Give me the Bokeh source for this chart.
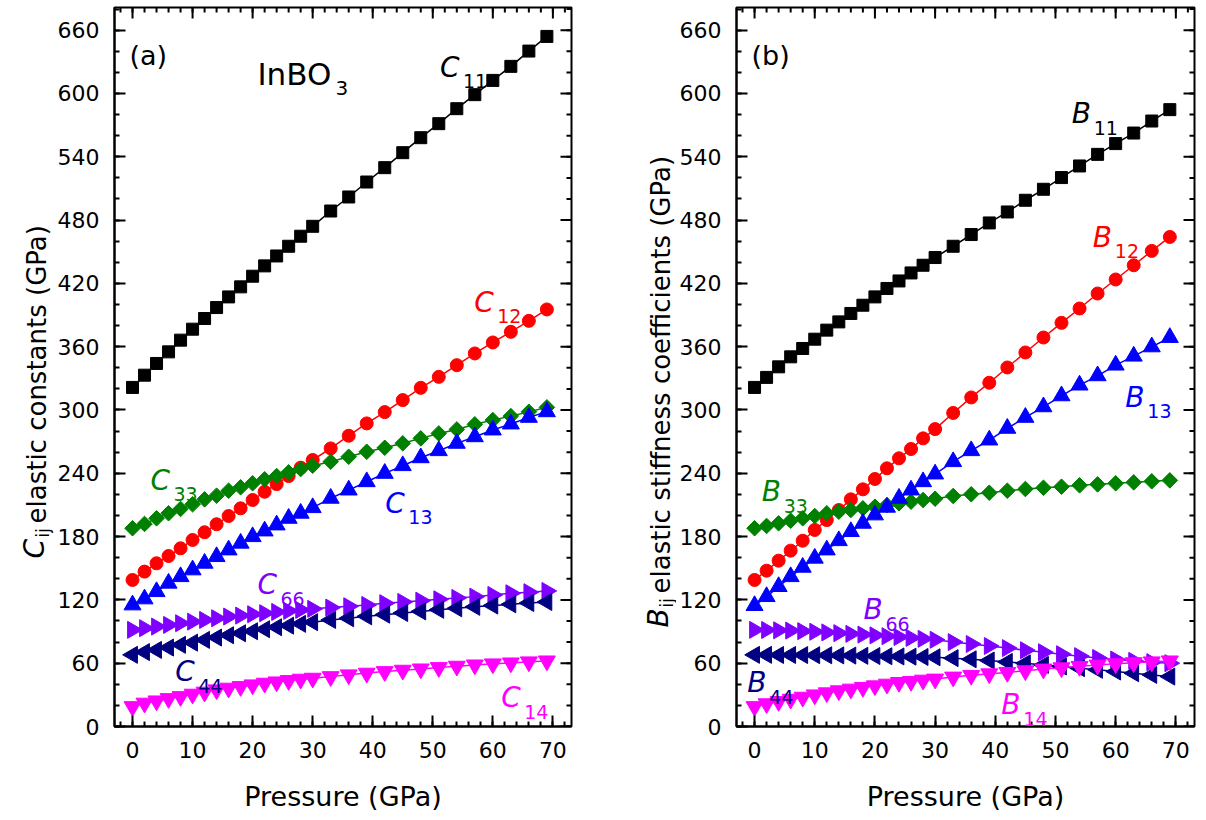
import math
from bokeh.plotting import figure
from bokeh.models import Range1d, FixedTicker, Label
from bokeh.layouts import row
from bokeh.embed import file_html
from bokeh.resources import INLINE

# ---------------- data ----------------
pressure = [0, 2, 4, 6, 8, 10, 12, 14, 16, 18, 20, 22, 24, 26, 28, 30,
            33, 36, 39, 42, 45, 48, 51, 54, 57, 60, 63, 66, 69]

C11 = [321.4, 333.0, 344.1, 355.1, 366.2, 376.6, 386.7, 397.1, 407.2, 416.7, 426.8, 436.6, 446.0, 455.2, 464.7, 474.1,
       488.6, 501.9, 516.1, 529.7, 543.9, 558.1, 571.4, 585.6, 598.9, 612.4, 625.7, 640.2, 654.1]
C12 = [138.9, 146.8, 154.7, 161.6, 168.9, 176.8, 184.1, 191.7, 199.5, 206.8, 214.7, 222.5, 229.8, 237.4, 245.3, 252.6,
       263.6, 275.6, 287.3, 298.0, 309.4, 321.0, 331.4, 342.5, 353.6, 364.0, 374.1, 384.5, 395.3]
C33 = [187.9, 192.0, 197.3, 202.1, 206.2, 210.6, 215.3, 218.8, 223.5, 226.7, 230.5, 234.3, 237.4, 240.9, 244.0, 247.2,
       251.0, 255.7, 260.4, 264.2, 268.4, 273.1, 277.8, 281.6, 286.4, 290.4, 294.2, 298.3, 302.5]
C13 = [115.2, 120.9, 127.8, 135.8, 142.0, 148.4, 154.7, 161.0, 167.3, 173.7, 179.9, 185.3, 191.0, 197.3, 202.1, 207.4,
       216.3, 224.1, 232.0, 239.9, 247.2, 254.7, 261.4, 268.4, 274.6, 281.0, 286.7, 293.0, 298.3]
C66 = [91.6, 93.2, 94.7, 96.3, 97.9, 99.4, 101.0, 102.6, 104.2, 105.1, 106.4, 107.4, 108.6, 109.6, 110.5, 111.5,
       112.7, 114.0, 115.2, 116.9, 118.1, 119.3, 120.6, 121.9, 123.1, 124.7, 126.3, 127.3, 128.5]
C44 = [67.9, 70.5, 72.6, 74.8, 77.4, 79.5, 82.1, 84.3, 86.5, 88.4, 90.3, 92.2, 94.1, 95.6, 97.3, 98.9,
       101.0, 102.6, 104.4, 106.0, 107.6, 109.1, 110.6, 112.0, 113.4, 114.6, 115.8, 117.0, 118.0]
C14 = [18.9, 22.2, 24.3, 26.5, 28.4, 30.7, 32.6, 34.8, 36.4, 37.9, 39.5, 41.1, 42.3, 43.6, 44.9, 45.8,
       47.3, 49.0, 50.6, 52.1, 53.4, 54.6, 55.9, 57.2, 58.4, 59.4, 60.3, 61.3, 62.2]

B11 = [321.4, 330.9, 340.9, 350.4, 358.3, 367.1, 375.7, 383.5, 391.5, 399.3, 407.2, 415.2, 422.3, 429.9, 437.2, 444.5,
       455.2, 466.3, 477.3, 487.7, 498.8, 509.2, 520.3, 531.3, 542.3, 552.5, 562.5, 573.9, 584.7]
B12 = [138.9, 147.7, 157.2, 166.7, 176.1, 186.3, 195.7, 205.2, 215.3, 224.8, 234.6, 244.7, 254.2, 263.0, 273.1, 281.9,
       297.2, 311.9, 325.8, 340.3, 354.5, 368.7, 382.6, 396.2, 410.4, 423.7, 437.2, 450.8, 464.0]
B13 = [114.6, 123.1, 132.6, 142.0, 150.9, 159.5, 167.3, 176.1, 184.7, 192.6, 200.5, 207.8, 216.3, 224.1, 232.0, 239.3,
       251.0, 261.4, 271.5, 282.6, 293.0, 303.0, 313.4, 323.6, 332.4, 342.5, 351.0, 359.8, 368.7]
B33 = [187.9, 190.1, 192.6, 195.1, 197.3, 199.5, 202.1, 203.6, 205.2, 206.8, 208.3, 209.9, 211.6, 213.1, 214.7, 215.9,
       218.5, 220.1, 221.6, 223.5, 225.1, 226.3, 227.3, 228.6, 229.5, 230.5, 231.4, 232.4, 233.3]
B66 = [91.6, 91.5, 91.2, 90.9, 90.4, 89.8, 89.2, 88.5, 87.8, 87.1, 86.4, 85.6, 84.8, 84.0, 83.1, 82.2,
       80.0, 78.2, 76.3, 74.3, 72.3, 70.4, 68.5, 66.7, 65.0, 63.5, 62.2, 61.0, 60.0]
B44 = [67.9, 67.9, 67.8, 67.8, 67.7, 67.6, 67.5, 67.4, 67.2, 67.0, 66.8, 66.6, 66.4, 66.2, 65.9, 65.6,
       64.8, 63.7, 62.5, 61.2, 59.9, 58.4, 56.9, 55.3, 53.7, 52.1, 50.5, 48.9, 47.3]
B14 = [18.9, 21.6, 23.7, 25.9, 27.8, 30.0, 32.0, 33.9, 35.5, 37.1, 38.6, 40.2, 41.8, 42.8, 44.0, 45.0,
       46.9, 48.5, 50.0, 51.3, 52.9, 54.5, 55.7, 57.0, 58.3, 59.5, 60.5, 61.3, 62.2]

x_major_ticks = [0, 10, 20, 30, 40, 50, 60, 70]
x_minor_ticks = list(range(-2, 73, 2))
y_major_ticks = [0, 60, 120, 180, 240, 300, 360, 420, 480, 540, 600, 660]
y_minor_ticks = list(range(0, 681, 20))

X_MIN, X_MAX = -3.0, 73.1
Y_MIN, Y_MAX = 0.0, 681.5

# ---------------- style ----------------
FONT = "DejaVu Sans"
BLACK = "#000000"
RED = "#ff0000"
GREEN = "#008000"
BLUE = "#0000ff"
VIOLET = "#8000ff"
NAVY = "#000080"
MAGENTA = "#ff00ff"

MAJOR_LEN = 11
MINOR_LEN = 5
HEIGHT = 820
BORDER_TOP = 7
BORDER_BOTTOM = 94

# suffix -> (colour, marker, angle, size)
styles = {
    "11": (BLACK, "square", 0.0, 12),
    "12": (RED, "circle", 0.0, 13),
    "33": (GREEN, "square", math.pi / 4, 11),
    "13": (BLUE, "triangle", 0.0, 17),
    "66": (VIOLET, "triangle", -math.pi / 2, 17),
    "44": (NAVY, "triangle", math.pi / 2, 17),
    "14": (MAGENTA, "inverted_triangle", 0.0, 17),
}


def style_axis(ax):
    ax.axis_line_width = 2
    ax.axis_line_color = "black"
    ax.major_tick_in = MAJOR_LEN
    ax.major_tick_out = 0
    ax.minor_tick_in = MINOR_LEN
    ax.minor_tick_out = 0
    ax.major_tick_line_width = 2
    ax.minor_tick_line_width = 2
    ax.major_tick_line_color = "black"
    ax.minor_tick_line_color = "black"
    ax.major_label_text_font = FONT
    ax.major_label_text_font_size = "22px"
    ax.major_label_text_color = "black"
    ax.major_label_standoff = 15


def make_fig(width, bl, br):
    p = figure(width=width, height=HEIGHT, x_range=Range1d(X_MIN, X_MAX), y_range=Range1d(Y_MIN, Y_MAX),
               output_backend="svg", toolbar_location=None,
               min_border_left=bl, min_border_right=br,
               min_border_top=BORDER_TOP, min_border_bottom=BORDER_BOTTOM)
    p.xgrid.visible = False
    p.ygrid.visible = False
    p.outline_line_color = "black"
    p.outline_line_width = 2
    p.background_fill_color = "white"
    p.border_fill_color = "white"
    p.xaxis.ticker = FixedTicker(ticks=x_major_ticks, minor_ticks=x_minor_ticks)
    p.yaxis.ticker = FixedTicker(ticks=y_major_ticks, minor_ticks=y_minor_ticks)
    style_axis(p.xaxis[0])
    style_axis(p.yaxis[0])
    p.xaxis.axis_label = "Pressure (GPa)"
    p.xaxis.axis_label_text_font = FONT
    p.xaxis.axis_label_text_font_size = "27px"
    p.xaxis.axis_label_text_font_style = "normal"
    p.xaxis.axis_label_text_color = "black"
    p.xaxis.axis_label_standoff = 20
    # mirror ticks on the top and right frame edges (half of each dash is clipped by the frame)
    p.scatter(x_major_ticks, [Y_MAX] * len(x_major_ticks), marker="dash", angle=math.pi / 2,
              size=2 * MAJOR_LEN, line_color="black", line_width=2)
    p.scatter(x_minor_ticks, [Y_MAX] * len(x_minor_ticks), marker="dash", angle=math.pi / 2,
              size=2 * MINOR_LEN, line_color="black", line_width=2)
    p.scatter([X_MAX] * len(y_major_ticks), y_major_ticks, marker="dash",
              size=2 * MAJOR_LEN, line_color="black", line_width=2)
    p.scatter([X_MAX] * len(y_minor_ticks), y_minor_ticks, marker="dash",
              size=2 * MINOR_LEN, line_color="black", line_width=2)
    return p


def add_series(p, series):
    for key, ys in series:
        color, marker, angle, size = styles[key]
        p.line(pressure, ys, line_color=color, line_width=1.5)
        p.scatter(pressure, ys, marker=marker, angle=angle, size=size,
                  fill_color=color, line_color=color, line_width=1)


def add_sym_label(p, letter, sub, color, x, y, dx=23, dy=-14):
    p.add_layout(Label(x=x, y=y, text=letter, text_font=FONT, text_font_size="28px",
                       text_font_style="italic", text_color=color,
                       text_align="left", text_baseline="alphabetic"))
    p.add_layout(Label(x=x, y=y, x_offset=dx, y_offset=dy, text=sub, text_font=FONT,
                       text_font_size="19px", text_color=color,
                       text_align="left", text_baseline="alphabetic"))


def ylabel_fig(width, letter, rest, xb, py0, py_sub, py_rest):
    """Narrow strip carrying the rotated y-axis title (with subscript).
    Its frame is aligned with the panels' frames; y is counted in pixels from the page bottom."""
    q = figure(width=width, height=HEIGHT, x_range=Range1d(0, width),
               y_range=Range1d(BORDER_BOTTOM, HEIGHT - BORDER_TOP),
               x_axis_type=None, y_axis_type=None, output_backend="svg", toolbar_location=None,
               min_border_left=0, min_border_right=0,
               min_border_top=BORDER_TOP, min_border_bottom=BORDER_BOTTOM,
               outline_line_color=None)
    q.background_fill_color = "white"
    q.border_fill_color = "white"
    ang = math.pi / 2
    q.add_layout(Label(x=xb, y=HEIGHT - py0, text=letter, angle=ang, text_font=FONT,
                       text_font_size="28px", text_font_style="italic", text_color="black",
                       text_align="left", text_baseline="alphabetic"))
    q.add_layout(Label(x=xb + 8, y=HEIGHT - py_sub, text="ij", angle=ang, text_font=FONT,
                       text_font_size="17px", text_color="black",
                       text_align="left", text_baseline="alphabetic"))
    q.add_layout(Label(x=xb + 2, y=HEIGHT - py_rest, text=rest, angle=ang, text_font=FONT,
                       text_font_size="26px", text_color="black",
                       text_align="left", text_baseline="alphabetic"))
    return q


# ---------------- panel (a) ----------------
lab1 = ylabel_fig(54, "C", "elastic constants (GPa)", 34, 558, 537, 523)
p1 = make_fig(566, 57, 49)
add_series(p1, [("11", C11), ("12", C12), ("33", C33), ("13", C13), ("66", C66), ("44", C44), ("14", C14)])
p1.add_layout(Label(x=-0.5, y=636, text="(a)", text_font=FONT, text_font_size="27px",
                    text_color="black", text_align="left", text_baseline="alphabetic"))
p1.add_layout(Label(x=20.8, y=618, text="InBO", text_font=FONT, text_font_size="31px",
                    text_color="black", text_align="left", text_baseline="alphabetic"))
p1.add_layout(Label(x=20.8, y=618, x_offset=78, y_offset=-14, text="3", text_font=FONT,
                    text_font_size="20px", text_color="black", text_align="left",
                    text_baseline="alphabetic"))
for letter, sub, color, x, y in [("C", "11", BLACK, 51.2, 624.7), ("C", "12", RED, 56.9, 402.2),
                                  ("C", "33", GREEN, 3.0, 233.6), ("C", "13", BLUE, 42.1, 211.8),
                                  ("C", "66", VIOLET, 20.8, 134.2), ("C", "44", NAVY, 7.1, 51.8),
                                  ("C", "14", MAGENTA, 61.4, 27.2)]:
    add_sym_label(p1, letter, sub, color, x, y)

# ---------------- panel (b) ----------------
lab2 = ylabel_fig(56, "B", "elastic stiffness coefficients (GPa)", 38, 627, 607, 593)
p2 = make_fig(530, 57, 12)
add_series(p2, [("11", B11), ("12", B12), ("33", B33), ("13", B13), ("66", B66), ("44", B44), ("14", B14)])
p2.add_layout(Label(x=-0.5, y=636, text="(b)", text_font=FONT, text_font_size="27px",
                    text_color="black", text_align="left", text_baseline="alphabetic"))
for letter, sub, color, x, y in [("B", "11", BLACK, 52.7, 581.0), ("B", "12", RED, 56.2, 463.7),
                                  ("B", "13", BLUE, 61.6, 312.2), ("B", "33", GREEN, 1.2, 222.3),
                                  ("B", "66", VIOLET, 18.1, 110.5), ("B", "44", NAVY, -1.2, 41.4),
                                  ("B", "14", MAGENTA, 41.0, 20.6)]:
    add_sym_label(p2, letter, sub, color, x, y, dx=22)

layout = row(lab1, p1, lab2, p2)
open("out.html", "w").write(file_html(layout, INLINE))
